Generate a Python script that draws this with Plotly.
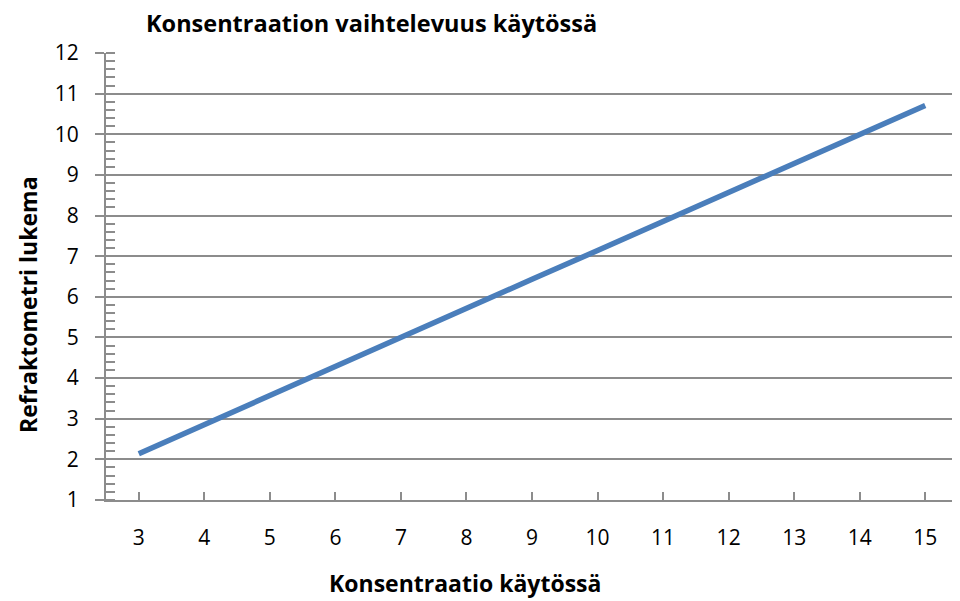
import plotly.graph_objects as go

konsentraatio = [3, 4, 5, 6, 7, 8, 9, 10, 11, 12, 13, 14, 15]
lukema = [2.14, 2.86, 3.57, 4.29, 5.0, 5.71, 6.43, 7.14, 7.86, 8.57, 9.29, 10.0, 10.71]
y_ticks = list(range(1, 13))

title_text = "Konsentraation vaihtelevuus käytössä"
x_title = "Konsentraatio käytössä"
y_title = "Refraktometri lukema"

grid_col = "#8c8c8c"
font_fam = "Open Sans, Liberation Sans, Arial, sans-serif"

# page body has an 8px margin; figure coordinates are offset by it
OFF = 8
W, H = 960 - OFF, 601 - OFF
L, R, T, B = 106 - OFF, 2, 53 - OFF, 601 - 500
PW, PH = W - L - R, H - T - B

fig = go.Figure()
fig.add_trace(go.Scatter(
    x=konsentraatio, y=lukema, mode="lines",
    line=dict(color="#4a7ebb", width=5.5),
    showlegend=False, hoverinfo="skip",
))

fig.update_layout(
    width=W, height=H,
    margin=dict(l=L, r=R, t=T, b=B),
    plot_bgcolor="white", paper_bgcolor="white",
    font=dict(family=font_fam, color="#000000", size=21),
    title=dict(text="<b>" + title_text + "</b>", x=(146 - OFF) / W, xanchor="left",
               y=1 - (24 - OFF) / H, yanchor="middle",
               font=dict(size=23.5, family=font_fam)),
    annotations=[
        dict(text="<b>" + x_title + "</b>", xref="paper", yref="paper",
             x=(465 - 106) / PW, y=-(583 - 500) / PH,
             xanchor="center", yanchor="middle", showarrow=False,
             font=dict(size=23)),
        dict(text="<b>" + y_title + "</b>", xref="paper", yref="paper",
             x=-(106 - 28) / PW, y=(500 - 305) / PH,
             xanchor="center", yanchor="middle", showarrow=False, textangle=-90,
             font=dict(size=23)),
    ],
)

fig.update_xaxes(
    range=[2.5, 15.5], tickvals=konsentraatio, ticktext=[str(v) for v in konsentraatio],
    showgrid=False, zeroline=False, automargin=False,
    showline=True, linecolor=grid_col, linewidth=2,
    ticks="inside", ticklen=8, tickwidth=2, tickcolor=grid_col,
    tickfont=dict(size=21), ticklabelstandoff=18,
)
fig.update_yaxes(
    range=[1, 12], tickvals=y_ticks,
    showgrid=True, gridcolor=grid_col, gridwidth=2,
    zeroline=False, automargin=False,
    showline=True, linecolor=grid_col, linewidth=2,
    ticks="outside", ticklen=9, tickwidth=2, tickcolor=grid_col,
    tickfont=dict(size=21), ticklabelstandoff=12,
    minor=dict(ticks="inside", ticklen=9, tickwidth=2, tickcolor=grid_col, dtick=0.2, showgrid=False),
)

fig.write_html("out.html")
